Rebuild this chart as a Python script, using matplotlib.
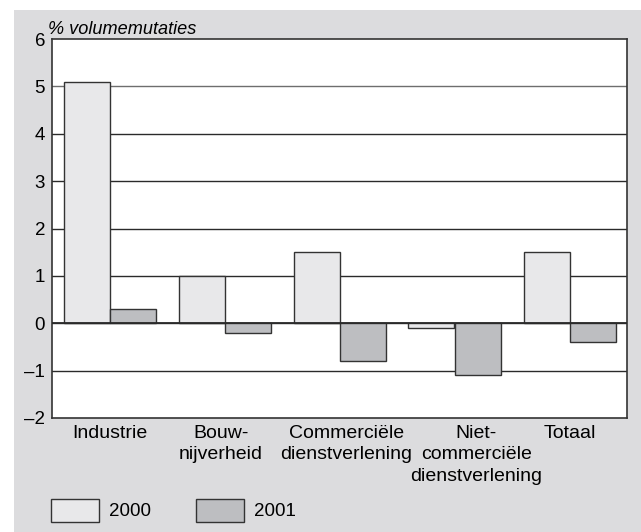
import numpy as np
import matplotlib.pyplot as plt
from matplotlib.patches import Rectangle

plt.rcParams['font.family'] = ['Liberation Sans', 'DejaVu Sans']

categories = ['Industrie', 'Bouw-\nnijverheid', 'Commerciële\ndienstverlening',
              'Niet-\ncommerciële\ndienstverlening', 'Totaal']
vals_2000 = [5.1, 1.0, 1.5, -0.1, 1.5]
vals_2001 = [0.3, -0.2, -0.8, -1.1, -0.4]
yticks = [-2, -1, 0, 1, 2, 3, 4, 5, 6]
ytick_labels = ['–2', '–1', '0', '1', '2', '3', '4', '5', '6']
# labels in the original are nudged sideways, not exactly under the bar pairs
label_shift = [0.0, -0.03, 0.06, 0.19, 0.0]

W, H = 641, 532
fig = plt.figure(figsize=(W / 100, H / 100), dpi=100)

# grey panel behind the chart
fig.patches.append(Rectangle((14 / W, 0), 1 - 14 / W, 1 - 10 / H, transform=fig.transFigure,
                             facecolor='#dcdcde', edgecolor='none', zorder=-5))

ax = fig.add_axes([52 / W, 1 - 418 / H, (627 - 52) / W, (418 - 39) / H])
ax.set_facecolor('white')

x = np.arange(len(categories))
bw = 0.4
ec = '#333333'
ax.bar(x - bw / 2, vals_2000, bw, color='#e8e8ea', edgecolor=ec, linewidth=1.0, zorder=3, label='2000')
ax.bar(x + bw / 2, vals_2001, bw, color='#bdbec1', edgecolor=ec, linewidth=1.0, zorder=3, label='2001')

for y in yticks[1:-1]:
    ax.axhline(y, color='#6e6e6e' if y == 5 else '#2a2a2a', linewidth=1.0, zorder=1)
ax.axhline(0, color='#2a2a2a', linewidth=1.3, zorder=4)

ax.set_xlim(-0.5, len(categories) - 0.5)
ax.set_ylim(-2, 6)
ax.set_yticks(yticks)
ax.set_yticklabels(ytick_labels)
ax.set_xticks(x + np.array(label_shift))
ax.set_xticklabels(categories, linespacing=1.35)
ax.tick_params(axis='y', length=0, pad=5, labelsize=13.5)
ax.tick_params(axis='x', length=0, pad=5, labelsize=14)
for s in ax.spines.values():
    s.set_color('#333333')
    s.set_linewidth(1.2)

fig.text(48 / W, 1 - 30 / H, '% volumemutaties', style='italic', fontsize=13.1,
         va='center', ha='left')

# legend drawn by hand in figure coords
for x0, lab, col in [(51, '2000', '#e8e8ea'), (196, '2001', '#bdbec1')]:
    fig.patches.append(Rectangle((x0 / W, 1 - 522 / H), 48 / W, 23 / H, transform=fig.transFigure,
                                 facecolor=col, edgecolor=ec, linewidth=1.0, zorder=2))
    fig.text((x0 + 58) / W, 1 - 511 / H, lab, fontsize=13.5, va='center', ha='left')

fig.savefig('out.png', dpi=100)
